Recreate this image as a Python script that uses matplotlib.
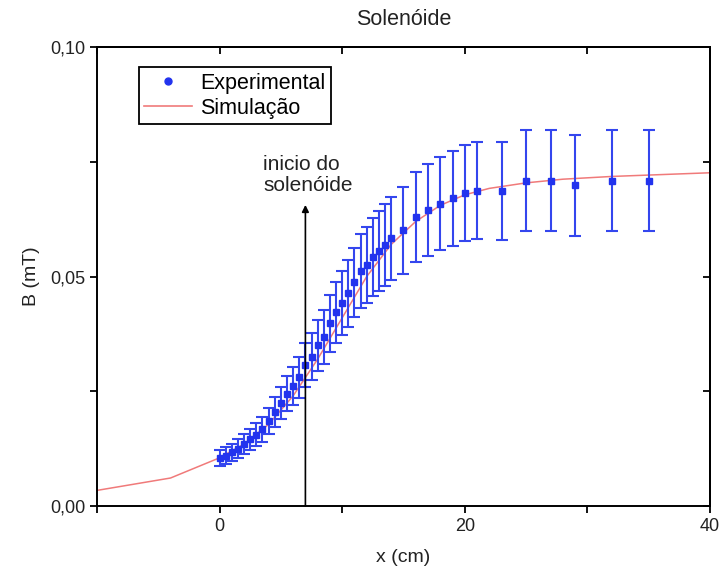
import matplotlib
matplotlib.use("Agg")
import matplotlib.pyplot as plt
from matplotlib.lines import Line2D
from matplotlib.ticker import FixedLocator, FuncFormatter

plt.rcParams['font.family'] = ['Liberation Sans', 'DejaVu Sans']

# Experimental data
x_exp = [0.0, 0.5, 1.0, 1.5, 2.0, 2.5, 3.0, 3.5, 4.0, 4.5, 5.0, 5.5, 6.0, 6.5,
         7.0, 7.5, 8.0, 8.5, 9.0, 9.5, 10.0, 10.5, 11.0, 11.5, 12.0, 12.5, 13.0,
         13.5, 14.0, 15, 16, 17, 18, 19, 20, 21, 23, 25, 27, 29, 32, 35]
b_exp = [0.0105, 0.0110, 0.0117, 0.0125, 0.0135, 0.0145, 0.0155, 0.0167, 0.0185,
         0.0205, 0.0225, 0.0245, 0.0262, 0.0280, 0.0308, 0.0325, 0.0350, 0.0368,
         0.0398, 0.0422, 0.0442, 0.0463, 0.0487, 0.0512, 0.0525, 0.0543, 0.0555,
         0.0569, 0.0583, 0.0601, 0.0630, 0.0645, 0.0659, 0.0670, 0.0682, 0.0687,
         0.0686, 0.0709, 0.0709, 0.0699, 0.0709, 0.0709]
err_exp = [0.0018, 0.0018, 0.0019, 0.0020, 0.0021, 0.0023, 0.0025, 0.0027, 0.0029,
           0.0032, 0.0035, 0.0038, 0.0041, 0.0044, 0.0048, 0.0051, 0.0055, 0.0058,
           0.0062, 0.0066, 0.0070, 0.0073, 0.0076, 0.0080, 0.0082, 0.0085, 0.0087,
           0.0089, 0.0091, 0.0095, 0.0098, 0.0100, 0.0102, 0.0104, 0.0105, 0.0106,
           0.0106, 0.0110, 0.0110, 0.0110, 0.0110, 0.0110]

# Simulation curve
x_sim = [-10, -4, 0, 2, 4, 6, 8, 10, 12, 14, 16, 18, 20, 22, 25, 28, 32, 36, 40]
b_sim = [0.0034, 0.0061, 0.0105, 0.0135, 0.0178, 0.0240, 0.0320, 0.0410, 0.0500,
         0.0570, 0.0620, 0.0655, 0.0678, 0.0692, 0.0704, 0.0712, 0.0718, 0.0722,
         0.0726]

x_ticks_major = [0, 20, 40]
x_ticks_minor = [-10, 10, 30]
y_ticks_major = [0.00, 0.05, 0.10]
y_ticks_minor = [0.025, 0.075]

title = "Solenóide"
xlabel = "x (cm)"
ylabel = "B (mT)"
annot_text = "inicio do\nsolenóide"
arrow_x = 7.0
arrow_top = 0.0656

blue = '#3446ee'
mblue = '#2233ee'
red = '#f07a7a'

fig = plt.figure(figsize=(7.22, 5.69), dpi=100)
ax = fig.add_axes([0.1343, 0.1107, 0.8491, 0.8067])

ax.plot(x_sim, b_sim, color=red, lw=1.1, zorder=2)
ax.errorbar(x_exp, b_exp, yerr=err_exp, fmt='s', color=mblue, ms=4.5,
            ecolor=blue, elinewidth=1.5, capsize=4.5, capthick=1.5, zorder=3)

ax.annotate('', xy=(arrow_x, arrow_top), xytext=(arrow_x, 0.0),
            arrowprops=dict(arrowstyle='-|>', color='black', lw=1.2,
                            mutation_scale=10, shrinkA=0, shrinkB=0), zorder=4)
ax.text(3.55, 0.0721, annot_text, fontsize=15, ha='left', va='center',
        linespacing=1.15, color='#222222')

ax.set_xlim(-10, 40)
ax.set_ylim(0, 0.10)

ax.xaxis.set_major_locator(FixedLocator(x_ticks_major))
ax.xaxis.set_minor_locator(FixedLocator(x_ticks_minor))
ax.yaxis.set_major_locator(FixedLocator(y_ticks_major))
ax.yaxis.set_minor_locator(FixedLocator(y_ticks_minor))
ax.yaxis.set_major_formatter(FuncFormatter(lambda v, p: f"{v:.2f}".replace('.', ',')))
ax.xaxis.set_major_formatter(FuncFormatter(lambda v, p: f"{v:.0f}"))

ax.tick_params(which='both', direction='out', length=5, width=1.3,
               labelsize=13, colors='black', labelcolor='#222222',
               top=False, right=False)

# top & right ticks pointing inward
secx = ax.secondary_xaxis('top')
secx.xaxis.set_major_locator(FixedLocator(x_ticks_major))
secx.xaxis.set_minor_locator(FixedLocator(x_ticks_minor))
secx.tick_params(which='both', direction='in', length=5, width=1.3,
                 labeltop=False)
secy = ax.secondary_yaxis('right')
secy.yaxis.set_major_locator(FixedLocator(y_ticks_major))
secy.yaxis.set_minor_locator(FixedLocator(y_ticks_minor))
secy.tick_params(which='both', direction='in', length=5, width=1.3,
                 labelright=False)

for sp in ax.spines.values():
    sp.set_linewidth(1.4)
secx.spines['top'].set_linewidth(1.4)
secy.spines['right'].set_linewidth(1.4)

ax.set_title(title, fontsize=15.5, color='#222222', pad=16)
ax.set_xlabel(xlabel, fontsize=14, color='#222222', labelpad=10)
ax.set_ylabel(ylabel, fontsize=14, color='#222222', labelpad=7)

handles = [Line2D([], [], marker='o', ls='none', color=mblue, ms=5),
           Line2D([], [], color=red, lw=1.2)]
leg = ax.legend(handles, ['Experimental', 'Simulação'], loc='upper left',
                bbox_to_anchor=(0.0685, 0.956), borderaxespad=0,
                fontsize=15.5, frameon=True, fancybox=False, framealpha=1,
                edgecolor='black', handlelength=2.2, handletextpad=0.4,
                labelspacing=0.2, borderpad=0.25)
leg.get_frame().set_linewidth(1.3)

fig.savefig('out.png', dpi=100)
